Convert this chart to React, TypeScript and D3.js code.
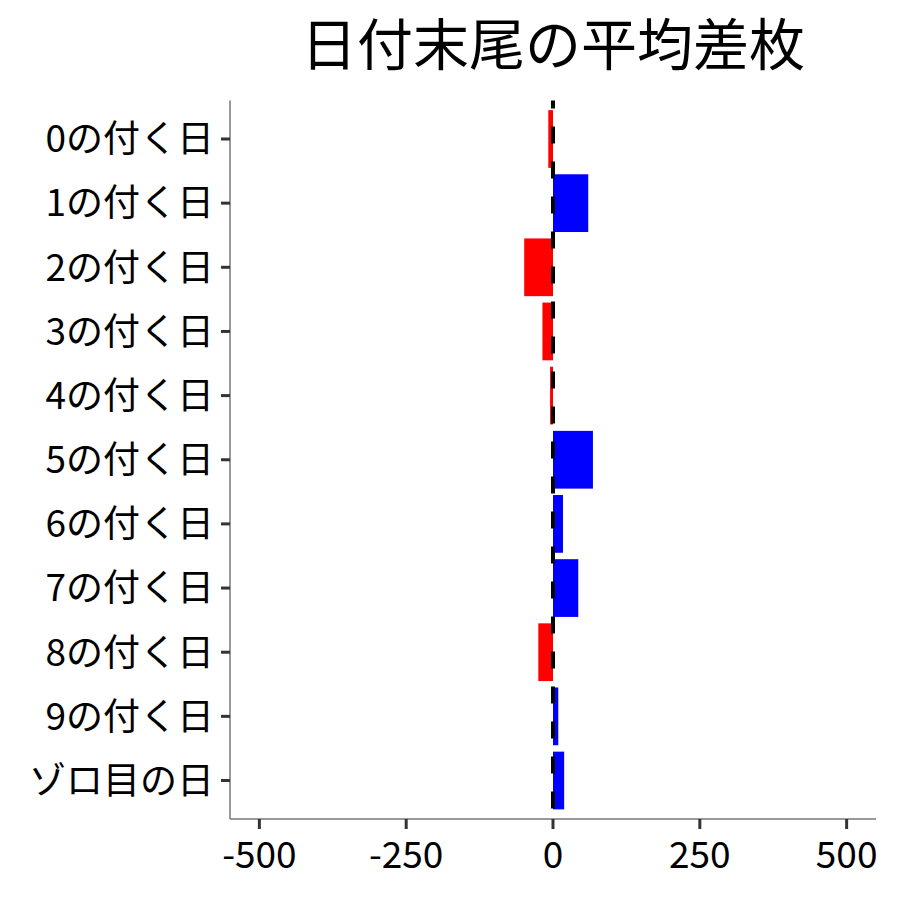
import React from 'react';
import * as d3 from 'd3';

const categories = [
  '0の付く日', '1の付く日', '2の付く日', '3の付く日', '4の付く日', '5の付く日',
  '6の付く日', '7の付く日', '8の付く日', '9の付く日', 'ゾロ目の日'
];
const values = [-8, 60, -49, -18, -5, 68, 17, 43, -25, 9, 19];
const xTicks = [-500, -250, 0, 250, 500];
const title = '日付末尾の平均差枚';

const W = 900;
const H = 900;
const FONT = '"Noto Sans CJK JP", "Noto Sans", sans-serif';

const App: React.FC = () => {
  const left = 230;
  const right = 876;
  const top = 100.5;
  const bottom = 819;

  // Continuous x with ggplot-like 5% expansion
  const x = d3.scaleLinear().domain([-550, 550]).range([left, right]);

  // Discrete y with 0.6 expansion on each side
  const n = categories.length;
  const step = (bottom - top) / (n - 1 + 1.2);
  const yCenter = (i: number) => top + step * (0.6 + i);
  const barH = step * 0.9;

  return (
    <svg width={W} height={H} style={{ display: 'block', margin: '-8px', background: '#fff' }}>
      <text x={(left + right) / 2} y={65} fontFamily={FONT} fontSize={56} textAnchor="middle" fill="#000">
        {title}
      </text>

      {values.map((v, i) => (
        <rect
          key={categories[i]}
          x={x(Math.min(0, v))}
          y={yCenter(i) - barH / 2}
          width={Math.abs(x(v) - x(0))}
          height={barH}
          fill={v < 0 ? '#FF0000' : '#0000FF'}
        />
      ))}

      <line
        x1={x(0)} x2={x(0)} y1={top} y2={bottom}
        stroke="#000" strokeWidth={4} strokeDasharray="17,18" strokeDashoffset={9}
      />

      {/* axes */}
      <line x1={left} x2={left} y1={top} y2={bottom} stroke="#777" strokeWidth={1.5} />
      <line x1={left} x2={right} y1={bottom} y2={bottom} stroke="#777" strokeWidth={1.5} />

      {categories.map((c, i) => (
        <g key={c}>
          <line x1={left - 9} x2={left} y1={yCenter(i)} y2={yCenter(i)} stroke="#333" strokeWidth={3} />
          <text x={left - 16} y={yCenter(i)} dy="0.36em" fontFamily={FONT} fontSize={37} textAnchor="end" fill="#000">
            {c}
          </text>
        </g>
      ))}

      {xTicks.map(t => (
        <g key={t}>
          <line x1={x(t)} x2={x(t)} y1={bottom} y2={bottom + 10} stroke="#333" strokeWidth={3} />
          <text x={x(t)} y={868} fontFamily={FONT} fontSize={37} textAnchor="middle" fill="#000">
            {t}
          </text>
        </g>
      ))}
    </svg>
  );
};

export default App;
